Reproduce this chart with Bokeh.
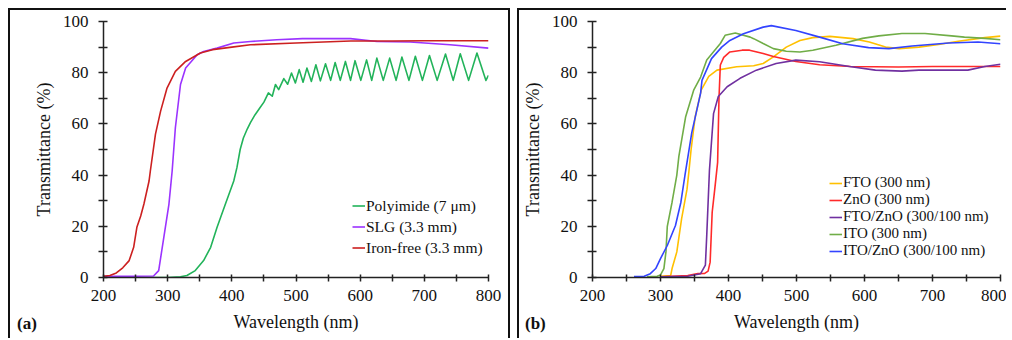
from bokeh.plotting import figure
from bokeh.layouts import row
from bokeh.models import Range1d, FixedTicker, Legend, LegendItem, Div
from bokeh.embed import file_html
from bokeh.resources import INLINE

# ---------------- data: panel (a) ----------------
wl_poly = [200, 300, 320, 330, 343, 356, 367, 377, 390, 403, 408, 413, 418, 424, 429, 436, 443, 450, 457, 463, 468, 473, 481,
           487, 493, 499, 505, 511, 517, 524, 531, 538, 546, 554, 561, 569, 577, 585, 592, 601, 610, 618, 626,
           636, 646, 656, 665, 676, 686, 697, 708, 720, 733, 745, 756, 769, 782, 796, 800]
t_poly = [0, 0, 0.3, 0.8, 2.7, 6.6, 11.8, 19.6, 28.7, 37.7, 43.0, 50.0, 54.5, 58.0, 60.5, 63.5, 66.0, 68.5, 72.1, 70.8, 75.4, 73.4, 77.7,
          75.5, 79.9, 76.0, 81.2, 76.3, 81.8, 76.6, 83.1, 76.8, 83.5, 77.0, 84.0, 77.0, 84.4, 77.0, 84.7, 77.0, 85.0, 77.0, 85.7,
          77.0, 85.7, 77.0, 86.1, 77.0, 86.4, 77.0, 86.7, 77.0, 87.3, 77.0, 87.4, 77.0, 87.7, 77.0, 79.0]

wl_slg = [200, 250, 278, 286, 294, 302, 307, 312, 320, 328, 346, 356, 377, 403, 429, 470, 510, 585, 626, 678, 740, 800]
t_slg = [0.5, 0.5, 0.6, 2.7, 15.7, 28.7, 41.6, 58.5, 75.4, 81.8, 87.0, 88.3, 89.6, 91.6, 92.2, 92.9, 93.3, 93.3, 92.2, 92.0, 90.9, 89.6]

wl_iron = [200, 210, 220, 230, 240, 247, 252, 258, 263, 271, 273, 281, 289, 299, 312, 328, 351, 370, 400, 429, 500, 585, 650, 700, 800]
t_iron = [0.5, 0.8, 1.8, 3.8, 6.6, 11.8, 19.6, 24.0, 28.7, 37.7, 41.6, 56.0, 65.0, 74.0, 80.5, 84.4, 87.7, 89.0, 90.0, 90.9, 91.6, 92.4, 92.4, 92.5, 92.5]

names_a = ["Polyimide (7 \u03bcm)", "SLG (3.3 mm)", "Iron-free (3.3 mm)"]

# ---------------- data: panel (b) ----------------
wl_fto = [300, 315, 317, 324, 331, 339, 342, 345, 351, 360, 371, 383, 412, 437, 451, 466, 485, 505, 524, 549, 583, 607, 631, 651, 680, 709, 738, 777, 800]
t_fto = [0.5, 0.8, 3.5, 10, 22.9, 34.5, 42.0, 50, 62.8, 73.3, 78.6, 81, 82.3, 82.7, 83.6, 86.2, 90, 92.6, 93.7, 94.2, 93.3, 92, 90, 89.4, 90, 91, 92.3, 93.7, 94.3]

wl_zno = [300, 340, 355, 365, 370, 373, 376, 380, 384, 386, 388, 393, 402, 420, 431, 451, 466, 499, 534, 580, 650, 700, 750, 800]
t_zno = [0.3, 0.8, 1.5, 1.6, 2.5, 6, 25.5, 35, 45, 70, 83, 86, 88.1, 88.8, 88.8, 87.5, 86.3, 84.4, 83.1, 82.4, 82.2, 82.4, 82.4, 82.4]

wl_ftozno = [300, 340, 359, 366, 368, 372, 378, 385, 398, 417, 441, 470, 499, 534, 578, 616, 655, 680, 752, 777, 800]
t_ftozno = [0.3, 0.5, 1.5, 4.8, 16.4, 42, 64, 70.7, 74.5, 77.8, 81, 83.6, 84.9, 84.3, 82.4, 81, 80.6, 81, 81, 82.4, 83.3]

wl_ito = [280, 295, 300, 305, 308, 310, 317, 324, 327, 337, 349, 359, 368, 388, 395, 410, 432, 437, 451, 466,
          485, 505, 524, 558, 597, 621, 655, 689, 728, 747, 777, 800]
t_ito = [0.3, 0.5, 1.0, 3.5, 10, 20, 29.4, 40, 47.3, 62.8, 73.3, 78.3, 85, 91.4, 94.6, 95.5, 93.9, 93.3, 91.4, 89.4,
         88.4, 88.1, 88.8, 90.7, 93.4, 94.4, 95.3, 95.3, 94.4, 93.9, 93.4, 92.9]

wl_itozno = [261, 276, 285, 293, 300, 310, 322, 330, 336, 346, 359, 361, 375, 390, 402, 422, 451, 463, 499, 534, 568, 606, 636, 670, 724, 767, 800]
t_itozno = [0.4, 0.5, 1.5, 3.5, 7.4, 12.5, 20.3, 29.4, 40, 56.6, 72, 77, 85.5, 90, 92.6, 95.2, 97.8, 98.4, 96.5, 93.9, 91.3, 89.8, 89.4, 90.4, 91.6, 92, 91.3]

names_b = ["FTO (300 nm)", "ZnO (300 nm)", "FTO/ZnO (300/100 nm)", "ITO (300 nm)", "ITO/ZnO (300/100 nm)"]
panel_tags = ["(a)", "(b)"]

x_major = [200, 300, 400, 500, 600, 700, 800]
x_minor = [250, 350, 450, 550, 650, 750]
y_major = [0, 20, 40, 60, 80, 100]
y_minor = [10, 30, 50, 70, 90]

FONT = "'Liberation Serif', serif"


def make_fig(width, height, ml, mr, mt, mb, box_right=True):
    p = figure(width=width, height=height, output_backend="svg", toolbar_location=None,
               x_range=Range1d(200, 800), y_range=Range1d(0, 100),
               min_border_left=ml, min_border_right=mr, min_border_top=mt, min_border_bottom=mb)
    p.outline_line_color = None
    p.xgrid.visible = False
    p.ygrid.visible = False
    p.background_fill_color = "white"
    p.border_fill_color = "white"
    st = {"border-top": "2px solid #111", "border-left": "2px solid #111"}
    if box_right:
        st["border-right"] = "2px solid #111"
    p.styles = st
    p.xaxis.ticker = FixedTicker(ticks=x_major, minor_ticks=x_minor)
    p.yaxis.ticker = FixedTicker(ticks=y_major, minor_ticks=y_minor)
    for ax in (p.xaxis[0], p.yaxis[0]):
        ax.axis_line_width = 1.5
        ax.axis_line_color = "#222"
        ax.major_tick_line_color = "#222"
        ax.minor_tick_line_color = "#222"
        ax.major_tick_line_width = 1.5
        ax.minor_tick_line_width = 1.5
        ax.major_label_text_font = FONT
        ax.major_label_text_font_size = "17px"
        ax.major_label_text_color = "#111"
        ax.axis_label_text_font = FONT
        ax.axis_label_text_font_size = "18px"
        ax.axis_label_text_font_style = "normal"
        ax.axis_label_text_color = "#111"
    p.yaxis.major_tick_in = 4
    p.yaxis.major_tick_out = 5
    p.yaxis.minor_tick_in = 4
    p.yaxis.minor_tick_out = 5
    p.xaxis.major_tick_in = 3
    p.xaxis.major_tick_out = 4
    p.xaxis.minor_tick_in = 3
    p.xaxis.minor_tick_out = 4
    p.yaxis.major_label_standoff = 10
    p.xaxis.major_label_standoff = 8
    p.yaxis.axis_label_standoff = 6
    p.xaxis.axis_label = "Wavelength (nm)"
    p.yaxis.axis_label = "Transmittance (%)"
    p.xaxis.axis_label_standoff = 8
    return p


def tag_div(txt, left, top):
    html = ('<span style="font-family: \'Liberation Serif\', serif; font-size: 17px; '
            'font-weight: bold; line-height: 20px; color: #111;">' + txt + '</span>')
    return Div(text=html, styles={"position": "absolute", "left": f"{left}px", "top": f"{top}px",
                                  "margin": "0", "padding": "0", "z-index": "10"})


# ---------------- panel (a) ----------------
pa = make_fig(502, 330, 93, 24, 10, 63)
cols_a = ["#22b35a", "#9b33ff", "#cc2020"]
ra1 = pa.line(wl_poly, t_poly, line_color=cols_a[0], line_width=1.6, line_join="round")
ra2 = pa.line(wl_slg, t_slg, line_color=cols_a[1], line_width=1.6)
ra3 = pa.line(wl_iron, t_iron, line_color=cols_a[2], line_width=1.6)
leg_a = Legend(items=[LegendItem(label=names_a[0], renderers=[ra1]),
                      LegendItem(label=names_a[1], renderers=[ra2]),
                      LegendItem(label=names_a[2], renderers=[ra3])],
               location=(249, 19), border_line_color=None, background_fill_alpha=0,
               padding=0, margin=0, spacing=0, glyph_width=13, glyph_height=21, label_height=21,
               label_standoff=1, label_text_font=FONT, label_text_font_size="15.5px",
               label_text_line_height=1.0, label_text_color="#111")
pa.add_layout(leg_a, "center")

# ---------------- panel (b) ----------------
pb = make_fig(489, 330, 71, 8, 11, 61, box_right=False)
cols_b = ["#ffc000", "#ff2a2a", "#7030a0", "#70ad47", "#3344ff"]
rb1 = pb.line(wl_fto, t_fto, line_color=cols_b[0], line_width=1.6)
rb2 = pb.line(wl_zno, t_zno, line_color=cols_b[1], line_width=1.6)
rb3 = pb.line(wl_ftozno, t_ftozno, line_color=cols_b[2], line_width=1.6)
rb4 = pb.line(wl_ito, t_ito, line_color=cols_b[3], line_width=1.6)
rb5 = pb.line(wl_itozno, t_itozno, line_color=cols_b[4], line_width=1.6)
leg_b = Legend(items=[LegendItem(label=names_b[i], renderers=[r]) for i, r in enumerate([rb1, rb2, rb3, rb4, rb5])],
               location=(237, 18), border_line_color=None, background_fill_alpha=0,
               padding=0, margin=0, spacing=0, glyph_width=13, glyph_height=16, label_height=16,
               label_standoff=1, label_text_font=FONT, label_text_font_size="15px",
               label_text_line_height=1.0, label_text_color="#111")
pb.add_layout(leg_b, "center")

div_a = tag_div(panel_tags[0], 9, 306)
div_b = tag_div(panel_tags[1], 517, 306)

layout = row(pa, pb, div_a, div_b, spacing=7, margin=(8, 0, 0, 8))
open("out.html", "w").write(file_html(layout, INLINE))
